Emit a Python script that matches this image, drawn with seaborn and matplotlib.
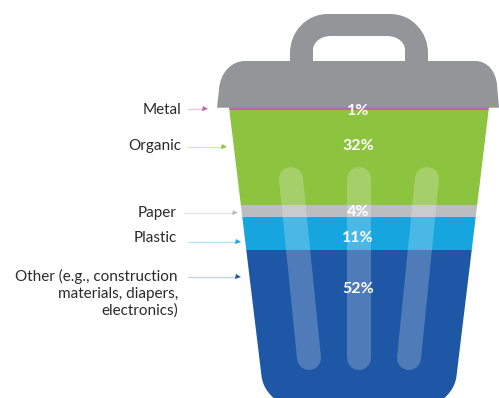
import matplotlib
matplotlib.use("Agg")
import matplotlib.pyplot as plt
from matplotlib.path import Path
from matplotlib.patches import PathPatch
import seaborn as sns

# Composition of the waste stream, listed from the top of the bin down
materials = ["Metal", "Organic", "Paper", "Plastic", "Other"]
shares = [1, 32, 4, 11, 52]
band_colors = ["#B768A8", "#8CC43F", "#BCBDC0", "#16A5DF", "#1E57A5"]
arrow_tints = ["#E6C8E0", "#D5E9B8", "#E6E6E7", "#B5E2F6", "#C3D3E8"]
label_lines = ["Metal", "Organic", "Paper", "Plastic",
               "Other (e.g., construction\nmaterials, diapers,\nelectronics)"]
share_text = ["1%", "32%", "4%", "11%", "52%"]

W, H = 499, 398
LID_GREY = "#939598"
INK = "#2B2A2B"

sns.set_theme(style="white")
plt.rcParams["font.family"] = ["Lato", "DejaVu Sans"]

fig = plt.figure(figsize=(W / 100, H / 100), dpi=100)

# Lower axes: the stacked bands, on a percentage scale running downward
ax = fig.add_axes([0, 0, 1, 1])
PX_PER_PCT = 2.98
TOP_PX = 107
CENTER_PX = 359

# Upper axes: pixel-sized canvas for the bin outline, arrows and text
canvas = fig.add_axes([0, 0, 1, 1])
canvas.set_xlim(0, W)
canvas.set_ylim(H, 0)
canvas.axis("off")
canvas.patch.set_alpha(0)

body = Path(
    [(229, 107), (261.5, 376), (263, 388), (270, 396), (281, 404),
     (437, 404), (448, 396), (455, 388), (456.5, 376), (489, 107), (229, 107)],
    [Path.MOVETO, Path.LINETO, Path.CURVE4, Path.CURVE4, Path.CURVE4,
     Path.LINETO, Path.CURVE4, Path.CURVE4, Path.CURVE4, Path.LINETO, Path.CLOSEPOLY],
)

running = 0
for share, color in zip(shares, band_colors):
    sns.barplot(x=[0], y=[share], bottom=running, color=color, saturation=1,
                width=320, ax=ax, linewidth=0)
    running += share
ax.set_xlim(-CENTER_PX, W - CENTER_PX)
ax.set_ylim((H - TOP_PX) / PX_PER_PCT, -TOP_PX / PX_PER_PCT)
ax.axis("off")
for bar in ax.patches:
    bar.set_clip_path(body, canvas.transData)

# Lid and handle, with the grip cut out as an inner contour
lid = Path(
    [(217, 107.7), (219, 90), (220, 72), (232, 61), (245, 61),
     (290, 61), (290, 53), (290, 32), (306, 14), (328, 14),
     (390, 14), (412, 14), (428, 32), (428, 53), (428, 61),
     (475, 61), (488, 61), (496, 72), (497, 85), (499, 107.7), (217, 107.7),
     (313, 61), (405, 61), (405, 50), (405, 42), (397, 36), (387, 36),
     (331, 36), (321, 36), (313, 42), (313, 50), (313, 61)],
    [Path.MOVETO, Path.LINETO, Path.CURVE4, Path.CURVE4, Path.CURVE4,
     Path.LINETO, Path.LINETO, Path.CURVE4, Path.CURVE4, Path.CURVE4,
     Path.LINETO, Path.CURVE4, Path.CURVE4, Path.CURVE4, Path.LINETO,
     Path.LINETO, Path.CURVE4, Path.CURVE4, Path.CURVE4, Path.LINETO, Path.CLOSEPOLY,
     Path.MOVETO, Path.LINETO, Path.LINETO, Path.CURVE4, Path.CURVE4, Path.CURVE4,
     Path.LINETO, Path.CURVE4, Path.CURVE4, Path.CURVE4, Path.CLOSEPOLY],
)
canvas.add_patch(PathPatch(lid, facecolor=LID_GREY, edgecolor="none"))

# Translucent ribs on the front of the bin
for xs in [(291, 309), (359, 359), (427, 409)]:
    canvas.plot(xs, (179, 358), color="white", alpha=0.22, lw=24 * 0.72,
                solid_capstyle="round")

# Value labels inside the bands
share_y = [111, 146, 212, 237.5, 289]
for text, y in zip(share_text, share_y):
    canvas.text(358, y, text, color="white", fontsize=11.5, fontweight="bold",
                ha="center", va="center")

# Category labels with their pointers
label_right = [181, 181, 177, 177, 178]
label_y = [110, 146, 213, 238, 293.5]
arrow_start = [188, 188, 184, 188, 188]
arrow_end = [207, 226, 237, 240, 240]
arrow_y = [109, 147, 213, 242, 277]
for i, text in enumerate(label_lines):
    canvas.text(label_right[i], label_y[i], text, color=INK, fontsize=11,
                ha="right", va="center", linespacing=1.22)
    canvas.plot([arrow_start[i], arrow_end[i] - 3], [arrow_y[i]] * 2,
                color=arrow_tints[i], lw=1)
    canvas.plot([arrow_end[i] - 2], [arrow_y[i]], marker=">", ms=3.6,
                color=band_colors[i], mew=0, ls="none")

fig.savefig("out.png", dpi=100)
